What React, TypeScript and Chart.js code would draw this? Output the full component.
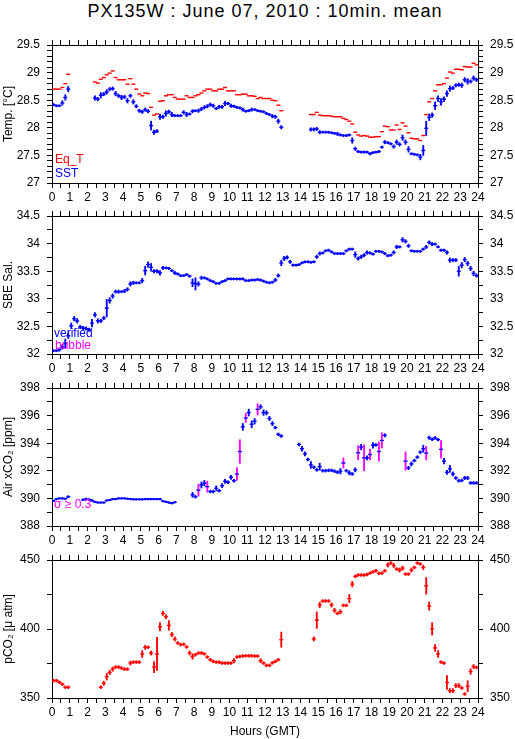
import React, { useEffect, useRef } from 'react';
import { Chart, registerables } from 'chart.js';

Chart.register(...registerables);

const FONT = '"Liberation Sans", Arial, Helvetica, sans-serif';
const RED = '#ff0000';
const BLUE = '#0000ff';
const MAGENTA = '#ff00ff';

// 10-minute means: interval centres in hours (GMT), 144 intervals per day
const HOURS: number[] = Array.from({ length: 144 }, (_, k) => (k * 10 + 5) / 60);
const HOUR_TICKS_MIN = 0;
const HOUR_TICKS_MAX = 24;

// ---------- Panel 1: temperatures ----------
const SST: (number | null)[] = [
  28.42, 28.40, 28.40, 28.45, 28.55, 28.70,
  null, null, null, null, null, null, null, null,
  28.54, 28.52, 28.59, 28.61, 28.65, 28.70, 28.71, 28.62, 28.58, 28.55,
  28.56, 28.49, 28.58, 28.47, 28.39, 28.31, 28.29, 28.33, 28.30, 28.04,
  27.92, 27.94, 28.20, 28.20, 28.26, 28.29, 28.24, 28.22, 28.22, 28.22,
  28.28, 28.24, 28.25, 28.30, 28.31, 28.31, 28.34, 28.37, 28.39, 28.42,
  28.40, 28.35, 28.38, 28.38, 28.44, 28.44, 28.40, 28.39, 28.37, 28.36,
  28.33, 28.30, 28.31, 28.33, 28.33, 28.31, 28.30, 28.29, 28.26, 28.24,
  28.21, 28.20, 28.12, 28.01,
  null, null, null, null, null, null, null, null, null,
  27.97, 27.97, 27.98, 27.92, 27.92, 27.92, 27.92, 27.91, 27.90, 27.89,
  27.87, 27.86, 27.86, 27.87, 27.77, 27.62, 27.57, 27.56, 27.56, 27.56,
  27.53, 27.55, 27.56, 27.57, 27.65, 27.74, 27.73, 27.71, 27.66, 27.74,
  27.70, 27.82, 27.74, 27.61, 27.53, 27.52, 27.51, 27.47, 27.59, 27.99,
  28.19, 28.23, 28.40, 28.53, 28.47, 28.52, 28.62, 28.71, 28.72, 28.77,
  28.78, 28.77, 28.87, 28.84, 28.84, 28.90, 28.87,
];
const SST_SIGMA: number[] = [
  0.02, 0.02, 0.02, 0.04, 0.05, 0.05,
  0, 0, 0, 0, 0, 0, 0, 0,
  0.04, 0.03, 0.05, 0.03, 0.04, 0.03, 0.03, 0.04, 0.03, 0.04,
  0.03, 0.04, 0.03, 0.04, 0.03, 0.03, 0.03, 0.03, 0.03, 0.08,
  0.04, 0.03, 0.05, 0.03, 0.05, 0.03, 0.04, 0.02, 0.02, 0.02,
  0.03, 0.04, 0.02, 0.03, 0.02, 0.03, 0.03, 0.03, 0.03, 0.03,
  0.03, 0.02, 0.03, 0.03, 0.04, 0.02, 0.03, 0.02, 0.02, 0.02,
  0.03, 0.02, 0.02, 0.03, 0.02, 0.02, 0.02, 0.02, 0.02, 0.02,
  0.03, 0.03, 0.04, 0.03,
  0, 0, 0, 0, 0, 0, 0, 0, 0,
  0.03, 0.03, 0.03, 0.03, 0.02, 0.02, 0.02, 0.02, 0.02, 0.03,
  0.02, 0.02, 0.02, 0.02, 0.05, 0.03, 0.02, 0.02, 0.02, 0.02,
  0.02, 0.02, 0.02, 0.02, 0.02, 0.03, 0.02, 0.02, 0.03, 0.04,
  0.03, 0.05, 0.04, 0.05, 0.02, 0.02, 0.02, 0.05, 0.09, 0.13,
  0.06, 0.04, 0.07, 0.05, 0.06, 0.04, 0.05, 0.05, 0.03, 0.03,
  0.03, 0.04, 0.04, 0.05, 0.03, 0.04, 0.03,
];
const EQ_T: (number | null)[] = [
  28.70, 28.70, 28.70, 28.73, 28.80, 28.97,
  null, null, null, null, null, null, null, null,
  28.83, 28.81, 28.88, 28.91, 28.96, 28.99, 29.03, 28.91, 28.87, 28.87,
  28.87, 28.79, 28.89, 28.79, 28.70, 28.61, 28.58, 28.63, 28.62, 28.37,
  28.23, 28.25, 28.48, 28.49, 28.58, 28.60, 28.60, 28.55, 28.52, 28.52,
  28.52, 28.58, 28.55, 28.55, 28.58, 28.60, 28.63, 28.67, 28.70, 28.70,
  28.67, 28.67, 28.70, 28.70, 28.73, 28.67, 28.67, 28.67, 28.60, 28.60,
  28.61, 28.61, 28.58, 28.58, 28.57, 28.53, 28.55, 28.53, 28.53, 28.53,
  28.50, 28.49, 28.41, 28.31,
  null, null, null, null, null, null, null, null, null,
  28.24, 28.24, 28.28, 28.23, 28.22, 28.22, 28.22, 28.21, 28.20, 28.20,
  28.20, 28.17, 28.15, 28.12, 28.07, 27.92, 27.87, 27.85, 27.86, 27.85,
  27.83, 27.83, 27.84, 27.84, 27.93, 28.03, 28.02, 27.96, 27.96, 28.05,
  27.97, 28.09, 28.03, 27.91, 27.81, 27.80, 27.80, 27.77, 27.86, 28.24,
  28.47, 28.53, 28.67, 28.78, 28.78, 28.80, 28.90, 29.01, 28.99, 29.06,
  29.06, 29.05, 29.11, 29.10, 29.10, 29.17, 29.14,
];

// ---------- Panel 2: salinity ----------
const SAL: (number | null)[] = [
  32.06, 32.06, 32.08, 32.13, 32.19, 32.33, 32.51, 32.64, 32.60, 32.49,
  32.47, 32.46, 32.44, 32.56, 32.71, 32.60, 32.60, 32.65, 32.83, 32.97,
  33.05, 33.13, 33.13, 33.13, 33.14, 33.17, 33.27, 33.29, 33.29, 33.29,
  33.33, 33.51, 33.62, 33.57, 33.50, 33.50, 33.47, 33.56, 33.56, 33.55,
  33.51, 33.47, 33.45, 33.42, 33.42, 33.44, 33.41, 33.29, 33.27, 33.27,
  33.38, 33.38, 33.36, 33.33, 33.31, 33.28, 33.28, 33.31, 33.33, 33.36,
  33.36, 33.36, 33.36, 33.36, 33.36, 33.33, 33.33, 33.34, 33.34, 33.35,
  33.34, 33.32, 33.30, 33.29, 33.30, 33.34, 33.42, 33.65, 33.73, 33.75,
  33.67, 33.61, 33.61, 33.62, 33.65, 33.67, 33.67, 33.66, 33.67, 33.76,
  33.82, 33.83, 33.87, 33.88, 33.85, 33.82, 33.82, 33.82, 33.82, 33.87,
  33.90, 33.90, 33.80, 33.73, 33.76, 33.79, 33.84, 33.83, 33.81, 33.86,
  33.86, 33.85, 33.82, 33.78, 33.79, 33.84, 33.94, 33.94, 34.07, 34.04,
  33.96, 33.87, 33.86, 33.86, 33.86, 33.90, 33.94, 34.02, 33.99, 33.99,
  33.94, 33.88, 33.88, 33.84, 33.70, 33.70, 33.70, 33.50, 33.61, 33.71,
  33.64, 33.55, 33.46, 33.42,
];
const SAL_SIGMA: number[] = [
  0.02, 0.02, 0.03, 0.04, 0.08, 0.05, 0.05, 0.04, 0.04, 0.03,
  0.03, 0.03, 0.03, 0.07, 0.04, 0.04, 0.03, 0.03, 0.16, 0.05,
  0.04, 0.03, 0.03, 0.02, 0.03, 0.03, 0.04, 0.03, 0.02, 0.02,
  0.04, 0.08, 0.05, 0.07, 0.03, 0.03, 0.04, 0.03, 0.02, 0.02,
  0.02, 0.03, 0.02, 0.02, 0.02, 0.02, 0.02, 0.07, 0.11, 0.04,
  0.03, 0.02, 0.02, 0.02, 0.02, 0.02, 0.02, 0.02, 0.02, 0.02,
  0.02, 0.02, 0.02, 0.02, 0.02, 0.02, 0.02, 0.02, 0.02, 0.02,
  0.02, 0.02, 0.02, 0.02, 0.02, 0.03, 0.03, 0.05, 0.04, 0.03,
  0.03, 0.02, 0.02, 0.02, 0.02, 0.02, 0.02, 0.02, 0.02, 0.03,
  0.03, 0.02, 0.02, 0.02, 0.02, 0.02, 0.02, 0.02, 0.02, 0.02,
  0.02, 0.02, 0.05, 0.03, 0.03, 0.03, 0.03, 0.02, 0.02, 0.02,
  0.02, 0.02, 0.02, 0.02, 0.02, 0.03, 0.03, 0.02, 0.04, 0.03,
  0.03, 0.02, 0.02, 0.02, 0.02, 0.02, 0.03, 0.03, 0.03, 0.02,
  0.02, 0.02, 0.02, 0.03, 0.04, 0.03, 0.03, 0.09, 0.05, 0.04,
  0.04, 0.04, 0.04, 0.03,
];

// ---------- Panel 3: atmospheric xCO2 ----------
const XCO2: (number | null)[] = [
  389.82, 389.95, 390.00, 390.00, 389.98, 390.12,
  null, null, null, null,
  389.90, 389.95, 389.92, 389.85, 389.75, 389.70, 389.70, 389.70, 389.85, 389.88,
  389.95, 389.95, 390.00, 390.00, 390.00, 389.98, 389.95, 389.93, 389.93, 389.93,
  389.93, 389.95, 389.95, 389.95, 389.95, 389.95, 389.95, 389.80, 389.75, 389.70,
  389.65, 389.72,
  null, null, null, null, null,
  390.26, 390.12, 390.60, 390.97, 391.10, 390.85, 390.50, 390.50, 390.73, 390.56,
  390.92, 391.24, 391.17, 391.53, 391.28, 391.77, 393.40, 395.18, 395.83, 396.22,
  395.37, 395.59, 396.45, 396.64, 396.22, 396.20, 395.79, 395.42, 395.13, 394.64,
  394.52,
  null, null, null, null, null,
  393.91, 393.60, 393.23, 392.82, 392.43, 392.26, 392.07, 392.30, 392.01, 392.01,
  392.03, 392.03, 391.97, 391.89, 391.97, 392.57, 392.01, 391.85, 391.77, 392.07,
  393.31, 393.72, 392.94, 392.94, 393.18, 393.84, 393.88, 393.40, 394.20, 394.57,
  null, null, null, null, null, null,
  392.70, 392.21, 392.50, 392.74, 392.99, 393.35, 393.60, 393.28, 394.40, 394.28,
  394.38, 394.26, 393.55, 392.70, 391.89, 392.14, 391.77, 391.48, 391.28, 391.30,
  391.48, 391.48, 391.12, 391.12, 391.12,
];
const XCO2_SIGMA: number[] = [
  0.06, 0.06, 0.06, 0.06, 0.06, 0.08,
  0, 0, 0, 0,
  0.06, 0.08, 0.06, 0.06, 0.06, 0.06, 0.06, 0.06, 0.06, 0.06,
  0.06, 0.06, 0.06, 0.06, 0.06, 0.06, 0.06, 0.06, 0.06, 0.06,
  0.06, 0.06, 0.06, 0.06, 0.06, 0.06, 0.06, 0.06, 0.06, 0.06,
  0.06, 0.06,
  0, 0, 0, 0, 0,
  0.18, 0.10, 0.43, 0.22, 0.20, 0.40, 0.10, 0.10, 0.18, 0.10,
  0.15, 0.15, 0.10, 0.15, 0.10, 0.46, 0.85, 0.25, 0.33, 0.25,
  0.25, 0.20, 0.40, 0.15, 0.20, 0.15, 0.15, 0.15, 0.10, 0.10,
  0.10,
  0, 0, 0, 0, 0,
  0.10, 0.18, 0.15, 0.10, 0.25, 0.10, 0.10, 0.25, 0.10, 0.10,
  0.10, 0.10, 0.10, 0.10, 0.20, 0.37, 0.10, 0.15, 0.10, 0.15,
  0.51, 0.20, 0.94, 0.15, 0.39, 0.20, 0.10, 0.69, 0.55, 0.12,
  0, 0, 0, 0, 0, 0,
  0.66, 0.12, 0.15, 0.10, 0.10, 0.10, 0.25, 0.49, 0.12, 0.10,
  0.10, 0.10, 0.64, 0.20, 0.15, 0.25, 0.15, 0.10, 0.10, 0.10,
  0.12, 0.12, 0.10, 0.10, 0.10,
];
const SIGMA_FLAG = 0.3;

// ---------- Panel 4: seawater pCO2 ----------
const PCO2: (number | null)[] = [
  362.6, 362.6, 361.4, 360.0, 357.8, 357.8,
  null, null, null, null, null, null, null, null, null, null,
  357.8, 360.7, 365.5, 368.5, 370.9, 372.4, 372.4, 371.7, 370.9, 370.9,
  375.3, 376.0, 376.0, 376.0, 381.9, 386.7, 386.7, 382.6, 372.4, 381.9,
  401.6, 411.3, 408.9, 402.6, 396.0, 392.8, 389.9, 388.7, 388.9, 387.0,
  382.6, 380.1, 381.4, 382.6, 382.6, 382.0, 379.7, 377.7, 376.5, 376.0,
  376.0, 375.3, 375.3, 375.3, 375.3, 377.0, 379.7, 380.1, 380.4, 380.6,
  380.6, 380.6, 380.4, 380.4, 377.0, 375.3, 373.6, 373.6, 375.5, 376.5,
  377.7, 392.3,
  null, null, null, null, null, null, null, null, null, null,
  392.8, 406.4, 417.4, 420.3, 420.3, 420.3, 417.4, 413.5, 411.3, 412.5,
  417.1, 417.1, 422.0, 432.5, 438.1, 439.1, 439.1, 439.1, 439.5, 440.5,
  441.4, 442.2, 440.3, 440.5, 442.2, 446.4, 447.8, 446.0, 443.5, 442.7,
  444.1, 439.8, 439.8, 442.7, 444.6, 447.8, 447.1, 444.6, 431.3, 416.6,
  400.1, 386.3, 381.9, 376.0, 375.3, 361.2, 355.3, 355.3, 359.0, 359.0,
  357.3, 352.9, 358.5, 369.2, 372.8, 372.1,
];
const PCO2_SIGMA: number[] = [
  1, 1, 1, 1, 1, 1,
  0, 0, 0, 0, 0, 0, 0, 0, 0, 0,
  1, 1.5, 2.5, 1.5, 1.5, 1, 1, 1, 1, 1,
  1.5, 1, 1, 1, 2.5, 1.5, 1, 1.5, 4, 12,
  3, 1.5, 1.5, 3.5, 1.5, 1.5, 1, 1, 1, 1,
  1.5, 2, 1, 1, 1, 1, 1, 1, 1, 1,
  1, 1, 1, 1, 1, 1.5, 1, 1, 1, 1,
  1, 1, 1, 1, 1.5, 1, 1, 1, 1, 1,
  1, 5.5,
  0, 0, 0, 0, 0, 0, 0, 0, 0, 0,
  1.5, 6, 2, 1, 1, 1, 1.5, 1.5, 1, 1.5,
  1, 1, 3, 2, 1, 1, 1, 1, 1, 1,
  1, 1, 1, 1, 1, 1.5, 1, 1.5, 1, 1.5,
  1.5, 1, 1, 1.5, 1, 1, 1, 1.5, 6, 3,
  4.5, 2.5, 2.5, 1, 1, 5, 1.5, 1.5, 1.5, 1.5,
  1, 1, 4, 2, 1.5, 1,
];

// ---------- layout ----------
const W = 515;
const PANEL_TOPS = [45, 216, 388, 560];
const PANEL_H = 138;
const PAD_TOP = 20;
const X_AXIS_H = 35;
const CANVAS_H = PAD_TOP + PANEL_H + X_AXIS_H;
const LEFT_W = 52;
const RIGHT_W = 37;

type Series = {
  values: (number | null)[];
  sigma?: number[];
  color: string;
  errColor?: (s: number) => string;
};

type PanelSpec = {
  min: number;
  max: number;
  step: number;
  major: number;
  title: string;
  series: Series[];
};

function dashData(values: (number | null)[]) {
  const out: { x: number; y: number }[] = [];
  values.forEach((v, k) => {
    if (v !== null) out.push({ x: HOURS[k], y: v });
  });
  return out;
}

function errData(values: (number | null)[], sigma: number[]) {
  const out: { x: number; y: [number, number]; s: number }[] = [];
  values.forEach((v, k) => {
    if (v !== null) out.push({ x: HOURS[k], y: [v - sigma[k], v + sigma[k]], s: sigma[k] });
  });
  return out;
}

function makeConfig(p: PanelSpec): any {
  const tickFont = { family: FONT, size: 12 };
  const grid = { drawOnChartArea: false, drawTicks: true, tickLength: 5, color: '#000', lineWidth: 1, offset: false };
  const border = { display: true, color: '#000', width: 1 };
  const yLabel = (v: number) => {
    const r = v / p.major;
    return Math.abs(r - Math.round(r)) < 1e-6 ? String(Math.round(v * 100) / 100) : '';
  };
  const xLabel = (v: number) => (Math.abs(v - Math.round(v)) < 1e-6 ? String(Math.round(v)) : '');

  const datasets: any[] = [];
  p.series.forEach((s) => {
    if (s.sigma) {
      const errColor = s.errColor;
      datasets.push({
        type: 'bar',
        data: errData(s.values, s.sigma),
        xAxisID: 'x',
        yAxisID: 'y',
        barThickness: 1.2,
        borderWidth: 0,
        borderSkipped: false,
        backgroundColor: (ctx: any) =>
          errColor && ctx.raw && typeof ctx.raw.s === 'number' ? errColor(ctx.raw.s) : s.color,
        order: 2,
      });
    }
    datasets.push({
      type: 'scatter',
      data: dashData(s.values),
      xAxisID: 'x',
      yAxisID: 'y',
      showLine: false,
      pointStyle: 'line',
      pointRadius: 2,
      pointHoverRadius: 2,
      pointBorderWidth: 1.4,
      pointBorderColor: s.color,
      pointBackgroundColor: s.color,
      order: 1,
    });
  });

  const xBase = {
    type: 'linear',
    axis: 'x',
    min: HOUR_TICKS_MIN,
    max: HOUR_TICKS_MAX,
    offset: false,
    grid,
    border,
  };
  const yBase = {
    type: 'linear',
    axis: 'y',
    min: p.min,
    max: p.max,
    offset: false,
    beginAtZero: false,
    grid,
    border,
  };

  return {
    type: 'scatter',
    data: { datasets },
    options: {
      responsive: false,
      maintainAspectRatio: false,
      animation: false,
      devicePixelRatio: 1,
      events: [],
      layout: { padding: { top: 15, left: 0, right: 0, bottom: 0 }, autoPadding: false },
      plugins: { legend: { display: false }, tooltip: { enabled: false }, title: { display: false } },
      scales: {
        x: {
          ...xBase,
          position: 'bottom',
          ticks: {
            stepSize: 0.5,
            autoSkip: false,
            maxRotation: 0,
            minRotation: 0,
            padding: 2,
            color: '#000',
            font: tickFont,
            callback: xLabel,
          },
          afterFit: (s: any) => {
            s.height = X_AXIS_H;
          },
        },
        xTop: {
          ...xBase,
          position: 'top',
          ticks: { display: false, stepSize: 0.5, autoSkip: false, maxRotation: 0 },
          afterFit: (s: any) => {
            s.height = 5;
          },
        },
        y: {
          ...yBase,
          position: 'left',
          ticks: {
            stepSize: p.step,
            autoSkip: false,
            padding: 7,
            color: '#000',
            font: tickFont,
            callback: yLabel,
          },
          title: {
            display: true,
            text: p.title,
            color: '#000',
            font: { family: FONT, size: 12 },
            padding: { top: 1, bottom: 0 },
          },
          afterFit: (s: any) => {
            s.width = LEFT_W;
          },
        },
        yRight: {
          ...yBase,
          position: 'right',
          ticks: {
            stepSize: p.step,
            autoSkip: false,
            padding: 7,
            color: '#000',
            font: tickFont,
            callback: yLabel,
          },
          afterFit: (s: any) => {
            s.width = RIGHT_W;
          },
        },
      },
    },
  };
}

const PANELS: PanelSpec[] = [
  {
    min: 27, max: 29.5, step: 0.1, major: 0.5, title: 'Temp. [°C]',
    series: [
      { values: EQ_T, color: RED },
      { values: SST, sigma: SST_SIGMA, color: BLUE },
    ],
  },
  {
    min: 32, max: 34.5, step: 0.25, major: 0.5, title: 'SBE Sal.',
    series: [{ values: SAL, sigma: SAL_SIGMA, color: BLUE }],
  },
  {
    min: 388, max: 398, step: 1, major: 2, title: 'Air xCO₂ [ppm]',
    series: [
      { values: XCO2, sigma: XCO2_SIGMA, color: BLUE, errColor: (s) => (s >= SIGMA_FLAG ? MAGENTA : BLUE) },
    ],
  },
  {
    min: 350, max: 450, step: 25, major: 50, title: 'pCO₂ [μ atm]',
    series: [{ values: PCO2, sigma: PCO2_SIGMA, color: RED }],
  },
];

function ChartPanel({ spec, top }: { spec: PanelSpec; top: number }) {
  const ref = useRef<HTMLCanvasElement | null>(null);
  useEffect(() => {
    if (!ref.current) return;
    const chart = new Chart(ref.current, makeConfig(spec));
    return () => chart.destroy();
  }, [spec]);
  return (
    <canvas
      ref={ref}
      width={W}
      height={CANVAS_H}
      style={{ position: 'absolute', left: 0, top: top - PAD_TOP, width: W, height: CANVAS_H, display: 'block' }}
    />
  );
}

const textBase: React.CSSProperties = {
  position: 'absolute',
  fontFamily: FONT,
  whiteSpace: 'nowrap',
  lineHeight: 1,
};

export default function App() {
  return (
    <div style={{ position: 'absolute', left: 0, top: 0, width: W, height: 739, background: '#fff', overflow: 'hidden' }}>
      <div
        style={{
          ...textBase,
          left: LEFT_W,
          width: W - LEFT_W - RIGHT_W,
          top: 2,
          textAlign: 'center',
          fontSize: 18,
          letterSpacing: '1px',
          color: '#000',
        }}
      >
        PX135W : June 07, 2010 : 10min. mean
      </div>
      {PANELS.map((p, i) => (
        <ChartPanel key={i} spec={p} top={PANEL_TOPS[i]} />
      ))}
      <div style={{ ...textBase, left: 55, top: 153, fontSize: 12, color: RED }}>Eq_T</div>
      <div style={{ ...textBase, left: 55, top: 166.5, fontSize: 12, color: BLUE }}>SST</div>
      <div style={{ ...textBase, left: 54, top: 326.5, fontSize: 12, color: BLUE }}>verified</div>
      <div style={{ ...textBase, left: 55, top: 339, fontSize: 12, color: MAGENTA }}>bubble</div>
      <div style={{ ...textBase, left: 54, top: 498, fontSize: 12, color: MAGENTA }}>σ ≥ 0.3</div>
      <div
        style={{
          ...textBase,
          left: LEFT_W,
          width: W - LEFT_W - RIGHT_W,
          top: 725,
          textAlign: 'center',
          fontSize: 12,
          color: '#000',
        }}
      >
        Hours (GMT)
      </div>
    </div>
  );
}
